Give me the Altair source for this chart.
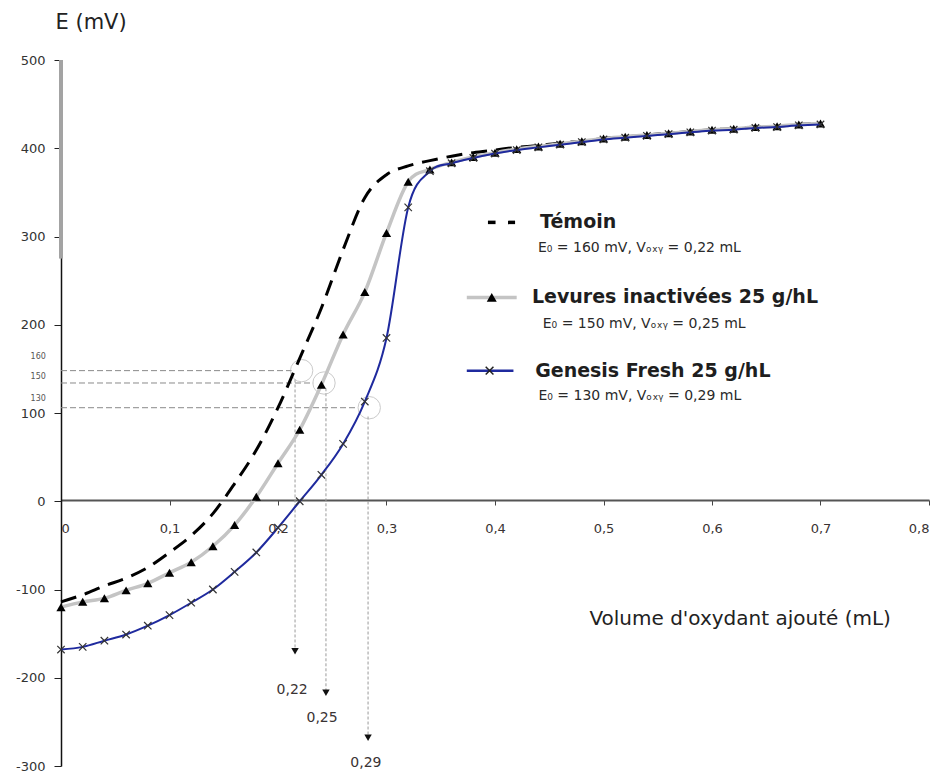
import altair as alt
import pandas as pd

# ---------------- data ----------------
X = [0.00, 0.02, 0.04, 0.06, 0.08, 0.10, 0.12, 0.14, 0.16, 0.18,
     0.20, 0.22, 0.24, 0.26, 0.28, 0.30, 0.32, 0.34, 0.36, 0.38,
     0.40, 0.42, 0.44, 0.46, 0.48, 0.50, 0.52, 0.54, 0.56, 0.58,
     0.60, 0.62, 0.64, 0.66, 0.68, 0.70]

TEMOIN = [-114, -106, -96, -87, -75, -58, -39, -14, 20, 58,
          106, 162, 219, 285, 344, 370, 380, 386, 391, 395,
          398, 401, 403, 406, 408, 411, 413, 415, 417, 419,
          421, 422, 424, 425, 427, 428]

LEVURES = [-120, -114, -110, -101, -93, -81, -69, -51, -27, 5,
           43, 81, 132, 189, 237, 304, 362, 376, 384, 390,
           395, 399, 402, 405, 408, 411, 413, 415, 417, 419,
           421, 422, 424, 425, 427, 428]

GENESIS = [-168, -165, -158, -151, -141, -129, -115, -100, -80, -58,
           -30, 0, 30, 65, 113, 185, 333, 374, 383, 389,
           394, 398, 401, 404, 407, 410, 412, 414, 416, 418,
           420, 421, 423, 424, 426, 427]

X_TICKS = [0, 0.1, 0.2, 0.3, 0.4, 0.5, 0.6, 0.7, 0.8]
Y_TICKS = [-300, -200, -100, 0, 100, 200, 300, 400, 500]

# graphical reading guides (horizontal / vertical dotted lines, circles)
GUIDE_Y = [148, 134, 106]
GUIDE_X_END = [0.2125, 0.2325, 0.2735]
CIRCLE_X = [0.2218, 0.2424, 0.2841]
CIRCLE_Y = [148, 134, 106]
DROP_X = [0.2157, 0.2442, 0.2830]
DROP_Y_TOP = [138, 128, 96]
DROP_Y_END = [-170, -217, -268]
DROP_LABELS = ["0,22", "0,25", "0,29"]
DROP_LABEL_X = [0.213, 0.2406, 0.281]
DROP_LABEL_Y = [-214, -246, -297]
SMALL_LABELS = ["160", "150", "130"]
SMALL_LABEL_X = [-0.021, -0.021, -0.021]
SMALL_LABEL_Y = [163, 141, 116]

# legend (drawn inside the plot)
LEG_TITLES = ["Témoin", "Levures inactivées 25 g/hL", "Genesis Fresh 25 g/hL"]
LEG_TITLE_X = [0.4415, 0.434, 0.437]
LEG_TITLE_Y = [316, 232, 148]
LEG_SUBS = ["E₀ = 160  mV, Vₒₓᵧ = 0,22 mL",
            "E₀ = 150  mV, Vₒₓᵧ = 0,25 mL",
            "E₀ = 130  mV, Vₒₓᵧ = 0,29  mL"]
LEG_SUB_X = [0.4396, 0.444, 0.440]
LEG_SUB_Y = [287, 201, 119]
LEG_DASH_X = [0.3935, 0.412]
LEG_DASH_X2 = [0.4005, 0.4185]
LEG_DASH_Y = [316, 316]
LEG_LINE_X = [0.374, 0.374]
LEG_LINE_X2 = [0.420, 0.417]
LEG_LINE_Y = [231, 148]
LEG_TRI_X = [0.397]
LEG_TRI_Y = [231]
LEG_CROSS_X = [0.395]
LEG_CROSS_Y = [148]

X_TITLE = ["Volume d'oxydant ajouté (mL)"]
X_TITLE_X = [0.487]
X_TITLE_Y = [-133]

FONT = "DejaVu Sans"

# ---------------- scales / axes ----------------
xscale = alt.Scale(domain=[0, 0.8], nice=False, zero=False)
yscale = alt.Scale(domain=[-300, 500], nice=False, zero=False)

xaxis = alt.Axis(
    values=X_TICKS, title=None, offset=-266, grid=False,
    domainColor="#555555", domainWidth=2, tickColor="#444444", tickSize=5,
    labelFont=FONT, labelFontSize=13, labelColor="#3a3333", labelPadding=17,
    labelExpr="datum.value == 0 ? '0' : replace(format(datum.value, '.1f'), '.', ',')",
)
yaxis = alt.Axis(
    values=Y_TICKS, grid=False, title="E (mV)", titleAngle=0,
    titleX=-6, titleY=-38, titleAlign="left", titleBaseline="middle",
    titleFont=FONT, titleFontSize=21, titleFontWeight="normal", titleColor="#222222",
    domainColor="#111111", domainWidth=1.5, tickColor="#222222", tickSize=7,
    labelFont=FONT, labelFontSize=13, labelColor="#333333", labelPadding=9,
    labelExpr="'' + datum.value",
)

xenc = alt.X("x:Q", scale=xscale, axis=xaxis)
yenc = alt.Y("y:Q", scale=yscale, axis=yaxis)

curves = pd.DataFrame({"x": X, "t": TEMOIN, "l": LEVURES, "g": GENESIS})
df_t = curves[["x", "t"]].rename(columns={"t": "y"})
df_l = curves[["x", "l"]].rename(columns={"l": "y"})
df_g = curves[["x", "g"]].rename(columns={"g": "y"})

layers = []

# gray artefact on the upper y axis
layers.append(
    alt.Chart(pd.DataFrame({"x": [0], "y": [500], "y2": [275]}))
    .mark_rule(color="#a3a3a3", strokeWidth=4)
    .encode(x=xenc, y=yenc, y2="y2:Q")
)

# horizontal reading guides
layers.append(
    alt.Chart(pd.DataFrame({"x": [0, 0, 0], "x2": GUIDE_X_END, "y": GUIDE_Y}))
    .mark_rule(color="#8a8a8a", strokeWidth=1, strokeDash=[6, 3])
    .encode(x=xenc, x2="x2:Q", y=yenc)
)
# vertical reading guides
layers.append(
    alt.Chart(pd.DataFrame({"x": DROP_X, "y": DROP_Y_TOP, "y2": DROP_Y_END}))
    .mark_rule(color="#9a9a9a", strokeWidth=1, strokeDash=[3, 2])
    .encode(x=xenc, y=yenc, y2="y2:Q")
)
# circles
layers.append(
    alt.Chart(pd.DataFrame({"x": CIRCLE_X, "y": CIRCLE_Y}))
    .mark_point(shape="circle", size=500, filled=False, color="#b5b5b5", strokeWidth=1)
    .encode(x=xenc, y=yenc)
)
# arrow heads
layers.append(
    alt.Chart(pd.DataFrame({"x": DROP_X, "y": DROP_Y_END}))
    .mark_point(shape="triangle-down", size=55, filled=True, color="#111111", opacity=1)
    .encode(x=xenc, y=yenc)
)
# arrow labels
layers.append(
    alt.Chart(pd.DataFrame({"x": DROP_LABEL_X, "y": DROP_LABEL_Y, "t": DROP_LABELS}))
    .mark_text(font=FONT, fontSize=14, color="#3a3333", align="center", baseline="middle")
    .encode(x=xenc, y=yenc, text="t:N")
)
# small labels near the y axis
layers.append(
    alt.Chart(pd.DataFrame({"x": SMALL_LABEL_X, "y": SMALL_LABEL_Y, "t": SMALL_LABELS}))
    .mark_text(font=FONT, fontSize=8, color="#555555", align="center", baseline="middle")
    .encode(x=xenc, y=yenc, text="t:N")
)

# curves
layers.append(
    alt.Chart(df_t)
    .mark_line(color="#000000", strokeWidth=3, strokeDash=[16, 9], interpolate="cardinal")
    .encode(x=xenc, y=yenc)
)
layers.append(
    alt.Chart(df_l)
    .mark_line(color="#c4c4c4", strokeWidth=3.5, interpolate="cardinal")
    .encode(x=xenc, y=yenc)
)
layers.append(
    alt.Chart(df_l)
    .mark_point(shape="triangle-up", size=85, filled=True, color="#000000", opacity=1)
    .encode(x=xenc, y=yenc)
)
layers.append(
    alt.Chart(df_g)
    .mark_line(color="#1f2a9e", strokeWidth=2, interpolate="cardinal")
    .encode(x=xenc, y=yenc)
)
CROSS = "M-1,-1L1,1M-1,1L1,-1"
layers.append(
    alt.Chart(df_g)
    .mark_point(shape=CROSS, size=55, filled=False, color="#333333", strokeWidth=1.2, opacity=1)
    .encode(x=xenc, y=yenc)
)

# legend symbols
layers.append(
    alt.Chart(pd.DataFrame({"x": LEG_DASH_X, "x2": LEG_DASH_X2, "y": LEG_DASH_Y}))
    .mark_rule(color="#000000", strokeWidth=3.5)
    .encode(x=xenc, x2="x2:Q", y=yenc)
)
layers.append(
    alt.Chart(pd.DataFrame({"x": LEG_LINE_X[:1], "x2": LEG_LINE_X2[:1], "y": LEG_LINE_Y[:1]}))
    .mark_rule(color="#c4c4c4", strokeWidth=3.5)
    .encode(x=xenc, x2="x2:Q", y=yenc)
)
layers.append(
    alt.Chart(pd.DataFrame({"x": LEG_LINE_X[1:], "x2": LEG_LINE_X2[1:], "y": LEG_LINE_Y[1:]}))
    .mark_rule(color="#1f2a9e", strokeWidth=2.5)
    .encode(x=xenc, x2="x2:Q", y=yenc)
)
layers.append(
    alt.Chart(pd.DataFrame({"x": LEG_TRI_X, "y": LEG_TRI_Y}))
    .mark_point(shape="triangle-up", size=100, filled=True, color="#000000", opacity=1)
    .encode(x=xenc, y=yenc)
)
layers.append(
    alt.Chart(pd.DataFrame({"x": LEG_CROSS_X, "y": LEG_CROSS_Y}))
    .mark_point(shape=CROSS, size=60, filled=False, color="#222222", strokeWidth=1.5, opacity=1)
    .encode(x=xenc, y=yenc)
)
# legend texts
layers.append(
    alt.Chart(pd.DataFrame({"x": LEG_TITLE_X, "y": LEG_TITLE_Y, "t": LEG_TITLES}))
    .mark_text(font=FONT, fontSize=19, fontWeight="bold", color="#1e1e1e", align="left", baseline="middle")
    .encode(x=xenc, y=yenc, text="t:N")
)
layers.append(
    alt.Chart(pd.DataFrame({"x": LEG_SUB_X, "y": LEG_SUB_Y, "t": LEG_SUBS}))
    .mark_text(font=FONT, fontSize=14, color="#2a2a2a", align="left", baseline="middle")
    .encode(x=xenc, y=yenc, text="t:N")
)
# x-axis title
layers.append(
    alt.Chart(pd.DataFrame({"x": X_TITLE_X, "y": X_TITLE_Y, "t": X_TITLE}))
    .mark_text(font=FONT, fontSize=20, color="#222222", align="left", baseline="middle")
    .encode(x=xenc, y=yenc, text="t:N")
)

chart = (
    alt.layer(*layers)
    .properties(
        width=868, height=706,
        autosize=alt.AutoSizeParams(type="none"),
        padding={"left": 53, "top": 52, "right": 6, "bottom": 6},
        background="white",
    )
    .configure_view(stroke=None)
)

chart.save("out.html", embed_options={"renderer": "svg", "actions": False})
